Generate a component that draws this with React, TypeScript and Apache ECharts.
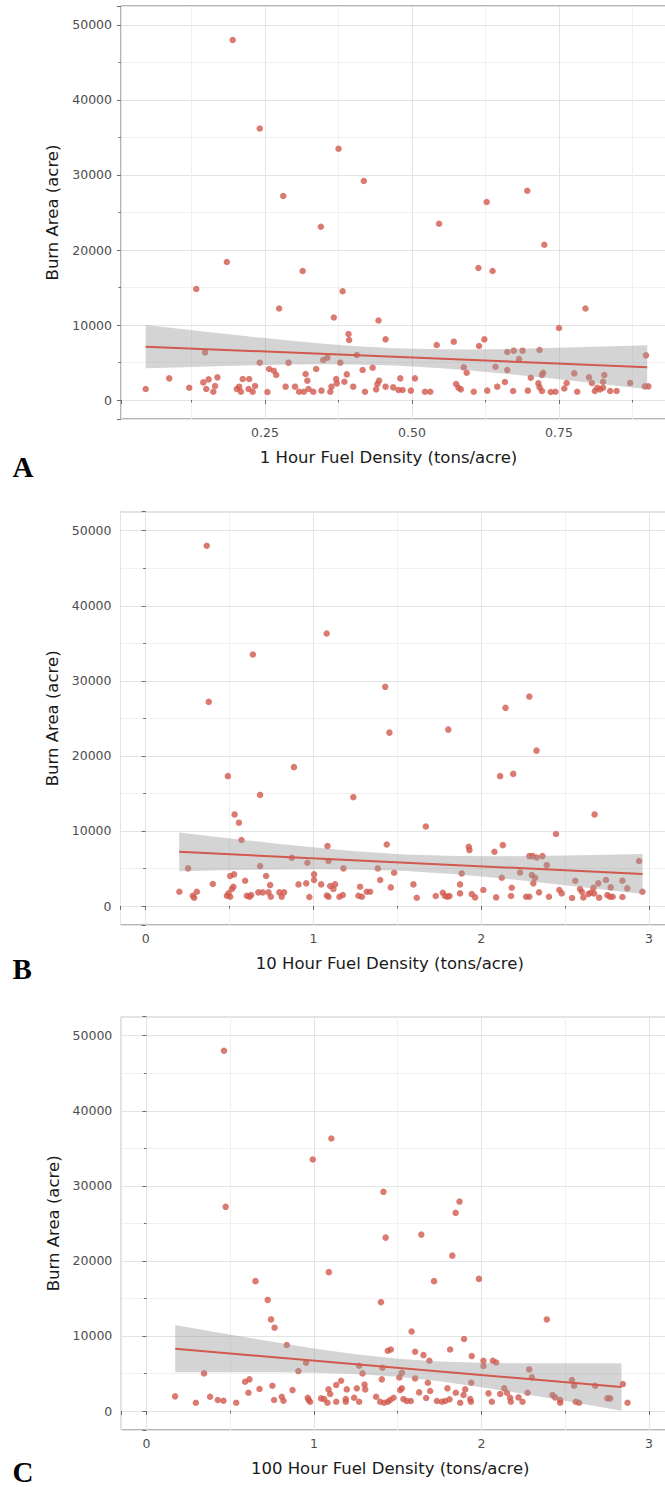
import React, { useEffect, useRef } from "react";
import * as echarts from "echarts";

// ---------- data ----------
const yTitle = "Burn Area (acre)";
const xTitles = [
  "1 Hour Fuel Density (tons/acre)",
  "10 Hour Fuel Density (tons/acre)",
  "100 Hour Fuel Density (tons/acre)",
];
const panelLetters = ["A", "B", "C"];

const pointsA: [number, number][] = [
  [0.195, 48000], [0.241, 36200], [0.375, 33500], [0.418, 29200], [0.696, 27900], [0.281, 27200],
  [0.627, 26400], [0.546, 23500], [0.345, 23100], [0.725, 20700], [0.185, 18400], [0.613, 17600],
  [0.314, 17200], [0.637, 17200], [0.133, 14800], [0.382, 14500], [0.274, 12200], [0.795, 12200],
  [0.367, 11000], [0.443, 10600], [0.75, 9600],
  [0.047, 1470], [0.087, 2890], [0.121, 1640], [0.148, 6350], [0.145, 2350], [0.154, 2750],
  [0.15, 1470], [0.162, 1110], [0.165, 1870], [0.169, 3020],
  [0.202, 1470], [0.206, 1780], [0.209, 1110], [0.212, 2800], [0.222, 1470], [0.223, 2800],
  [0.229, 1110], [0.233, 1870],
  [0.241, 4980], [0.254, 1070], [0.257, 4130], [0.265, 3910], [0.269, 3330], [0.285, 1780],
  [0.29, 4980], [0.301, 1780],
  [0.308, 1110], [0.316, 1110], [0.319, 3470], [0.322, 2580], [0.324, 1470], [0.332, 1110],
  [0.337, 4130], [0.346, 1250], [0.349, 5330], [0.356, 5650],
  [0.361, 1110], [0.363, 1780], [0.371, 2800], [0.372, 2220], [0.378, 4980], [0.385, 2440],
  [0.389, 3420], [0.392, 8800], [0.393, 8000], [0.4, 1780], [0.406, 6000], [0.416, 4000],
  [0.42, 1110], [0.433, 4310], [0.439, 1420], [0.441, 2130], [0.444, 2580], [0.455, 8090],
  [0.455, 1780], [0.468, 1690],
  [0.477, 1330], [0.48, 2890], [0.484, 1330], [0.498, 1250], [0.505, 2890], [0.522, 1110],
  [0.531, 1110], [0.542, 7330], [0.571, 7780], [0.575, 2130], [0.579, 1640], [0.583, 1420],
  [0.588, 4360], [0.593, 3640], [0.605, 1110], [0.614, 7200], [0.623, 8090], [0.628, 1250],
  [0.642, 4440], [0.645, 1780], [0.658, 2400], [0.662, 6400], [0.662, 4000], [0.672, 1200],
  [0.673, 6580], [0.682, 5470], [0.688, 6580], [0.697, 1250], [0.702, 2980], [0.715, 2220],
  [0.717, 6670], [0.717, 1690], [0.721, 3330], [0.723, 3640], [0.721, 1200], [0.736, 1070],
  [0.744, 1110], [0.759, 1530], [0.763, 2270], [0.776, 3560], [0.781, 1110], [0.801, 3020],
  [0.806, 2270], [0.811, 1200], [0.815, 1640], [0.82, 1420], [0.825, 2440], [0.827, 3330],
  [0.825, 1640], [0.837, 1200], [0.848, 1200], [0.871, 2270], [0.896, 1820], [0.898, 5960],
  [0.902, 1820],
];

const pointsB: [number, number][] = [
  [0.364, 48000], [1.079, 36300], [0.639, 33500], [1.428, 29200], [2.287, 27900], [0.376, 27200],
  [2.145, 26400], [1.804, 23500], [1.453, 23100], [2.33, 20700], [0.884, 18500], [0.49, 17300],
  [2.113, 17300], [2.191, 17600], [0.682, 14800], [1.238, 14500], [0.53, 12200], [2.676, 12200],
  [0.556, 11100], [1.67, 10600], [2.446, 9600], [0.571, 8800],
  [0.201, 1900], [0.253, 5010], [0.281, 1370], [0.289, 1100], [0.305, 1900], [0.4, 2930],
  [0.484, 1370], [0.494, 1690], [0.504, 1240], [0.514, 2260], [0.523, 2570], [0.504, 3990],
  [0.527, 4210], [0.593, 3370], [0.603, 1370], [0.619, 1240], [0.629, 1460], [0.682, 5320],
  [0.672, 1820], [0.698, 1820], [0.718, 3990], [0.742, 2790], [0.746, 1240], [0.732, 1820],
  [0.797, 1820], [0.811, 1240], [0.825, 1820], [0.871, 6430], [0.911, 2880], [0.957, 3020],
  [0.964, 5760], [0.976, 1200], [1.004, 4210], [1.004, 3460], [1.046, 2880], [1.084, 7980],
  [1.09, 5990], [1.08, 1400], [1.09, 1240], [1.1, 2660], [1.129, 2880], [1.119, 2260],
  [1.155, 1240], [1.175, 1460], [1.179, 5010], [1.268, 1370], [1.278, 2570], [1.289, 1240],
  [1.318, 1900], [1.338, 1900], [1.384, 5010], [1.398, 3460], [1.437, 8200], [1.461, 2480],
  [1.481, 4430],
  [1.596, 2880], [1.616, 1100], [1.729, 1330], [1.771, 1770], [1.785, 1330], [1.799, 1240],
  [1.811, 1330], [1.874, 2880], [1.874, 1680], [1.884, 4340], [1.926, 7890], [1.93, 7450],
  [1.944, 1590], [1.964, 1150], [2.013, 2130], [2.079, 7230], [2.089, 1150], [2.123, 3770],
  [2.129, 8110], [2.178, 1330], [2.182, 2440], [2.232, 4470], [2.268, 1240], [2.287, 1240],
  [2.287, 6650], [2.307, 6650], [2.331, 6470], [2.365, 6650], [2.302, 4120], [2.321, 3770],
  [2.311, 3020], [2.345, 1820], [2.391, 5450], [2.404, 1240], [2.466, 2130], [2.48, 1680],
  [2.542, 1060], [2.561, 3370], [2.589, 2260], [2.6, 1900], [2.609, 1150], [2.639, 1590],
  [2.653, 1770], [2.669, 2440], [2.673, 1680], [2.698, 3020], [2.703, 1110], [2.744, 3460],
  [2.752, 1460], [2.768, 1240], [2.784, 1240], [2.772, 2480], [2.842, 3370], [2.842, 1200],
  [2.871, 2350], [2.941, 5990], [2.961, 1900],
];

const pointsC: [number, number][] = [
  [0.463, 48000], [1.104, 36300], [0.993, 33500], [1.415, 29200], [1.869, 27900], [0.473, 27200],
  [1.846, 26400], [1.641, 23500], [1.428, 23100], [1.826, 20700], [1.089, 18500], [0.651, 17300],
  [1.717, 17300], [1.985, 17600], [0.724, 14800], [1.4, 14500], [0.744, 12200], [2.39, 12200],
  [0.765, 11100], [1.583, 10600], [1.896, 9600], [0.838, 8800],
  [0.171, 1950], [0.295, 1100], [0.344, 5010], [0.38, 1900], [0.426, 1460], [0.46, 1370],
  [0.536, 1100], [0.589, 3900], [0.615, 4210], [0.609, 2440], [0.675, 2930], [0.752, 3370],
  [0.762, 1460], [0.808, 1900], [0.818, 1370], [0.872, 2790], [0.907, 5320], [0.953, 6430],
  [0.963, 1770], [0.969, 1460], [0.977, 1240], [1.043, 1680], [1.061, 1590], [1.081, 1100],
  [1.087, 2880], [1.097, 2260], [1.133, 3460], [1.133, 1240], [1.162, 4030], [1.19, 1590],
  [1.19, 1240], [1.196, 2880], [1.24, 1770], [1.256, 3020], [1.27, 1240], [1.27, 6030],
  [1.29, 5010], [1.302, 3510], [1.306, 2880], [1.371, 1900], [1.405, 4210], [1.409, 5760],
  [1.395, 1240], [1.419, 1100], [1.441, 1240], [1.455, 1460], [1.475, 1770], [1.441, 8020],
  [1.459, 8200],
  [1.51, 4480], [1.525, 5100], [1.515, 2790], [1.525, 3020], [1.534, 1590], [1.554, 1330],
  [1.578, 1330], [1.604, 7890], [1.604, 4340], [1.628, 2480], [1.654, 7450], [1.67, 1730],
  [1.68, 3770], [1.689, 6690], [1.694, 2660], [1.734, 1330], [1.764, 1240], [1.783, 1330],
  [1.809, 1550], [1.797, 3020], [1.813, 8200], [1.847, 2440], [1.873, 1100], [1.893, 2130],
  [1.903, 2880], [1.939, 3770], [1.933, 1590], [1.937, 1240], [1.942, 7320], [2.012, 6690],
  [2.012, 5990], [2.042, 2350], [2.062, 1240], [2.068, 6690], [2.088, 6470], [2.112, 2260],
  [2.136, 3020], [2.152, 2440], [2.171, 1770], [2.175, 1240], [2.221, 1810], [2.245, 1240],
  [2.275, 2440], [2.285, 5540], [2.301, 4480], [2.424, 2130], [2.44, 1810], [2.47, 1460],
  [2.47, 1100], [2.54, 4120], [2.553, 3370], [2.563, 1240], [2.583, 1100], [2.679, 3370],
  [2.752, 1680], [2.768, 1680], [2.844, 3590], [2.872, 1100],
];

// confidence band edges: [x, lower, upper]
const bandA: [number, number, number][] = [
  [0.047, 4220, 10000], [0.1, 4352, 9528], [0.15, 4468, 9092], [0.2, 4574, 8666],
  [0.25, 4665, 8255], [0.3, 4732, 7868], [0.35, 4766, 7514], [0.4, 4749, 7211],
  [0.47, 4606, 6906], [0.55, 4245, 6755], [0.6, 3931, 6749], [0.675, 3376, 6824],
  [0.75, 2762, 6958], [0.825, 2116, 7124], [0.9, 1450, 7310],
];
const bandB: [number, number, number][] = [
  [0.2, 4645, 9795], [0.4, 4738, 9274], [0.6, 4818, 8764], [0.8, 4879, 8275],
  [1.0, 4909, 7815], [1.25, 4878, 7310], [1.55, 4672, 6872], [1.85, 4235, 6667],
  [2.1, 3730, 6636], [2.3, 3271, 6667], [2.5, 2781, 6727], [2.75, 2142, 6830],
  [2.962, 1587, 6931],
];
const bandC: [number, number, number][] = [
  [0.172, 5150, 11450], [0.4, 5170, 10558], [0.6, 5171, 9791], [0.8, 5149, 9047],
  [1.0, 5089, 8341], [1.25, 4918, 7556], [1.5, 4558, 6958], [1.75, 3961, 6599],
  [2.0, 3175, 6427], [2.2, 2469, 6367], [2.4, 1726, 6346], [2.6, 959, 6347],
  [2.836, 35, 6367],
];

// regression line end points
const trendA: [number, number][] = [[0.047, 7110], [0.9, 4380]];
const trendB: [number, number][] = [[0.2, 7220], [2.962, 4259]];
const trendC: [number, number][] = [[0.172, 8300], [2.836, 3201]];

// axis ranges
const xRanges: [number, number][] = [[0.005, 0.9405], [-0.15, 3.15], [-0.15, 3.15]];
const xSteps = [0.25, 1, 1];
const xDecimals = [2, 0, 0];
const yRange: [number, number] = [-2530, 52530];
const yStep = 10000;

// ---------- styling ----------
const RED = "#d2594e";
const BAND = "rgba(153,153,153,0.42)";
const FRAME = "#6b6b6b";
const FONT = '"DejaVu Sans", sans-serif';

const grids = [
  { left: 121, top: 6, width: 550, height: 413 },
  { left: 120.5, top: 511.7, width: 553.6, height: 413.3 },
  { left: 121.3, top: 1016.7, width: 552.8, height: 413.3 },
];
const letterYs = [467.3, 969.3, 1472];

const allPoints = [pointsA, pointsB, pointsC];
const allBands = [bandA, bandB, bandC];
const allTrends = [trendA, trendB, trendC];

export default function App() {
  const ref = useRef<HTMLDivElement>(null);

  useEffect(() => {
    if (!ref.current) return;
    const chart = echarts.init(ref.current, undefined, { renderer: "svg" });

    const grid = grids.map((g) => ({
      ...g,
      show: true,
      backgroundColor: "#ffffff",
      borderColor: FRAME,
      borderWidth: 1,
      containLabel: false,
    }));

    const xAxis = xRanges.map((r, i) => ({
      type: "value",
      gridIndex: i,
      min: r[0],
      max: r[1],
      minInterval: xSteps[i],
      maxInterval: xSteps[i],
      name: xTitles[i],
      nameLocation: "middle",
      nameGap: 30,
      nameTextStyle: {
        fontFamily: FONT,
        fontSize: 16.5,
        color: "#1a1a1a",
        padding: [0, 15, 0, 0],
      },
      axisLine: { show: false },
      axisTick: { show: true, length: 4, lineStyle: { color: FRAME, width: 1 } },
      minorTick: { show: true, splitNumber: 2, length: 2.5, lineStyle: { color: FRAME, width: 1 } },
      axisLabel: {
        show: true,
        margin: 7,
        fontFamily: FONT,
        fontSize: 12.5,
        color: "#4d4d4d",
        showMinLabel: false,
        showMaxLabel: false,
        formatter: (v: number) => v.toFixed(xDecimals[i]),
      },
      splitLine: { show: true, lineStyle: { color: "#e3e3e3", width: 1 } },
      minorSplitLine: { show: true, lineStyle: { color: "#f0f0f0", width: 1 } },
    }));

    const yAxis = grids.map((_, i) => ({
      type: "value",
      gridIndex: i,
      min: yRange[0],
      max: yRange[1],
      minInterval: yStep,
      maxInterval: yStep,
      name: yTitle,
      nameLocation: "middle",
      nameGap: 58,
      nameRotate: 90,
      nameTextStyle: { fontFamily: FONT, fontSize: 16.5, color: "#1a1a1a" },
      axisLine: { show: false },
      axisTick: { show: true, length: 4, lineStyle: { color: FRAME, width: 1 } },
      minorTick: { show: true, splitNumber: 2, length: 2.5, lineStyle: { color: FRAME, width: 1 } },
      axisLabel: {
        show: true,
        margin: 9,
        fontFamily: FONT,
        fontSize: 12.5,
        color: "#4d4d4d",
        showMinLabel: false,
        showMaxLabel: false,
        formatter: (v: number) => String(v),
      },
      splitLine: { show: true, lineStyle: { color: "#e3e3e3", width: 1 } },
      minorSplitLine: { show: true, lineStyle: { color: "#f0f0f0", width: 1 } },
    }));

    const series: any[] = [];
    grids.forEach((_, i) => {
      const band = allBands[i];
      series.push({
        type: "scatter",
        xAxisIndex: i,
        yAxisIndex: i,
        data: allPoints[i],
        symbol: "circle",
        symbolSize: 6.5,
        itemStyle: { color: RED },
        z: 2,
        silent: true,
      });
      series.push({
        type: "custom",
        xAxisIndex: i,
        yAxisIndex: i,
        data: band,
        encode: { x: 0, y: [1, 2] },
        z: 3,
        silent: true,
        renderItem: (params: any, api: any) => {
          if (params.dataIndex !== 0) return null;
          const upper = band.map((b) => api.coord([b[0], b[2]]));
          const lower = band
            .slice()
            .reverse()
            .map((b) => api.coord([b[0], b[1]]));
          return {
            type: "polygon",
            shape: { points: upper.concat(lower) },
            style: { fill: BAND, stroke: "none" },
          };
        },
      });
      series.push({
        type: "line",
        xAxisIndex: i,
        yAxisIndex: i,
        data: allTrends[i],
        symbol: "none",
        lineStyle: { color: RED, width: 2 },
        z: 4,
        silent: true,
      });
    });

    const graphic = panelLetters.map((t, i) => ({
      type: "text",
      x: 12.5,
      y: letterYs[i],
      style: {
        text: t,
        font: 'bold 29px "Liberation Serif", "Times New Roman", serif',
        fill: "#000000",
        lineHeight: 20,
        verticalAlign: "middle",
        textVerticalAlign: "middle",
      },
    }));

    chart.setOption({
      animation: false,
      backgroundColor: "#ffffff",
      grid,
      xAxis,
      yAxis,
      series,
      graphic,
    });

    return () => chart.dispose();
  }, []);

  return (
    <div
      style={{
        position: "fixed",
        left: 0,
        top: 0,
        width: 665,
        height: 1487,
        overflow: "hidden",
        background: "#ffffff",
      }}
    >
      <div ref={ref} style={{ width: 700, height: 1487 }} />
    </div>
  );
}
